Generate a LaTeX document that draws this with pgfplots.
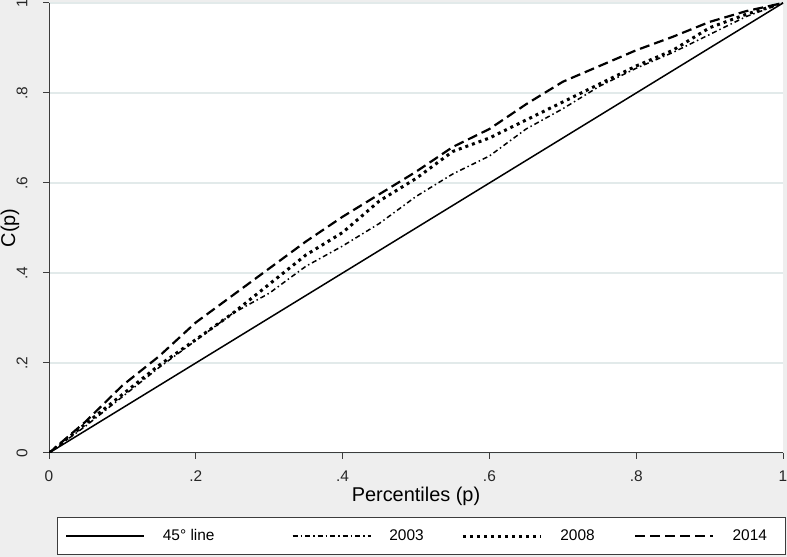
\documentclass[border=0pt]{standalone}
\usepackage{fontspec}
\setmainfont{Liberation Sans}
\usepackage{pgfplots}
\pgfplotsset{compat=1.18}
\definecolor{bg}{RGB}{238,238,238}
\definecolor{gridc}{RGB}{226,234,234}
\definecolor{axc}{RGB}{60,60,60}
\pgfplotstableread{
p     c03   c08   c14
0     0     0     0
0.05  0.06  0.065 0.07
0.10  0.125 0.13  0.15
0.15  0.19  0.195 0.215
0.20  0.25  0.252 0.29
0.25  0.31  0.31  0.35
0.30  0.355 0.375 0.41
0.35  0.415 0.44  0.47
0.40  0.46  0.49  0.525
0.45  0.51  0.56  0.575
0.50  0.57  0.61  0.625
0.55  0.62  0.67  0.68
0.60  0.66  0.70  0.72
0.65  0.72  0.74  0.775
0.70  0.765 0.78  0.825
0.75  0.815 0.82  0.86
0.80  0.855 0.86  0.895
0.85  0.89  0.895 0.925
0.90  0.93  0.945 0.958
0.95  0.97  0.975 0.982
1.00  1     1     1
}\datatab
\begin{document}
\begin{tikzpicture}
\fill[bg] (0bp,0bp) rectangle (787bp,557bp);
\useasboundingbox (0bp,0bp) rectangle (787bp,557bp);
\begin{axis}[
  at={(49bp,104bp)}, anchor=south west,
  scale only axis, width=734bp, height=450bp,
  xmin=0, xmax=1, ymin=0, ymax=1,
  axis lines*=left,
  axis line style={axc, line width=1bp},
  axis background/.style={fill=white},
  ymajorgrids, grid style={gridc, line width=1.2bp},
  xtick={0,0.2,0.4,0.6,0.8,1}, xticklabels={0,.2,.4,.6,.8,1},
  ytick={0,0.2,0.4,0.6,0.8,1}, yticklabels={0,.2,.4,.6,.8,1},
  tick align=outside, major tick length=6bp,
  tick style={axc, line width=1bp},
  xticklabel shift=8bp, yticklabel shift=12bp,
  xticklabel style={font=\fontsize{15.5}{18}\selectfont, text=black!85},
  yticklabel style={font=\fontsize{15.5}{18}\selectfont, text=black!85, rotate=90, anchor=south},
  xlabel={Percentiles (p)}, ylabel={C(p)},
  xlabel style={font=\fontsize{20}{24}\selectfont, at={(axis description cs:0.5,0)}, anchor=center, yshift=-43bp},
  ylabel style={font=\fontsize{20}{24}\selectfont, at={(axis description cs:-0.0531,0.5)}, anchor=center},
  legend columns=4,
  legend cell align=left,
  legend image code/.code={\draw[#1] (0bp,0bp) -- (78bp,0bp);},
  legend style={at={(axis description cs:0.0109,-0.2267)}, anchor=south west,
    draw=axc, line width=0.8bp, fill=white, inner xsep=8bp, inner ysep=0bp,
    font=\fontsize{15.5}{18}\selectfont,
    /tikz/every odd column/.append style={column sep=18bp},
    nodes={inner sep=0pt, minimum height=37bp}},
]
\addplot[black, line width=1.5bp] coordinates {(0,0) (1,1)};
\addlegendentry{\makebox[129bp][l]{45° line}}
\addplot[black, line width=1.5bp, dash pattern=on 5bp off 3bp on 1.5bp off 3bp] table[x=p,y=c03] {\datatab};
\addlegendentry{\makebox[72bp][l]{2003}}
\addplot[black, line width=3bp, dash pattern=on 3bp off 4bp] table[x=p,y=c08] {\datatab};
\addlegendentry{\makebox[74bp][l]{2008}}
\addplot[black, line width=2.2bp, dash pattern=on 10bp off 5bp] table[x=p,y=c14] {\datatab};
\addlegendentry{\makebox[45bp][l]{2014}}
\end{axis}
\end{tikzpicture}
\end{document}
